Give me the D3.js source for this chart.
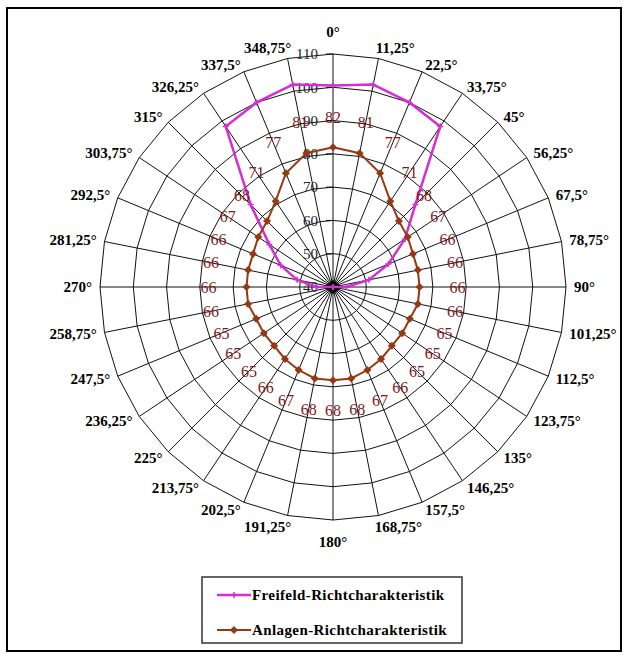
<!DOCTYPE html>
<html>
<head>
<meta charset="UTF-8" />
<title>Richtcharakteristik</title>
<script src="https://d3js.org/d3.v7.min.js"></script>
<style>
	body { margin: 0; background: #fff; }
	text { font-family: "Liberation Serif", "Times New Roman", serif; }
</style>
</head>
<body>
<svg id="chart" width="628" height="659"></svg>
<script>
// categories (angle of the spoke)
var angleLabels = ["0°", "11,25°", "22,5°", "33,75°", "45°", "56,25°", "67,5°", "78,75°",
	"90°", "101,25°", "112,5°", "123,75°", "135°", "146,25°", "157,5°", "168,75°",
	"180°", "191,25°", "202,5°", "213,75°", "225°", "236,25°", "247,5°", "258,75°",
	"270°", "281,25°", "292,5°", "303,75°", "315°", "326,25°", "337,5°", "348,75°"]

// series values
var freifeld = [100.5, 102, 100, 98, 75, 66, 58, 51,
	44, 40, 40, 40, 40, 40, 40, 40,
	40, 40, 40, 40, 40, 40, 40, 40,
	45, 51, 57, 63, 75, 98, 100, 102]
var anlagen = [82, 81, 77, 71, 68, 67, 66, 66,
	66, 66, 65, 65, 65, 66, 67, 68,
	68, 68, 67, 66, 65, 65, 65, 66,
	66, 66, 66, 67, 68, 71, 77, 81]

// value axis
var ringValues = [40, 50, 60, 70, 80, 90, 100, 110]
var seriesNames = ["Freifeld-Richtcharakteristik", "Anlagen-Richtcharakteristik"]

var cx = 333, cy = 287, R = 233
var magenta = "#d42ed4", brown = "#963811", labelRed = "#821818"

var svg = d3.select("#chart")

// outer frame
svg.append("rect")
	.attr("x", 7).attr("y", 8).attr("width", 614).attr("height", 643)
	.attr("fill", "none").attr("stroke", "#000").attr("stroke-width", 2)

var rScale = d3.scaleLinear().domain([d3.min(ringValues), d3.max(ringValues)]).range([0, R])
var aScale = d3.scaleLinear().domain([0, angleLabels.length]).range([0, 2 * Math.PI])

function pt(i, r) {
	var a = aScale(i)
	return [cx + r * Math.sin(a), cy - r * Math.cos(a)]
}

var ringLine = d3.line().curve(d3.curveLinearClosed)

var grid = svg.append("g")

// rings (polygons like excel radar)
grid.selectAll("path.ring")
	.data(ringValues.filter(v => v > d3.min(ringValues)))
	.enter()
	.append("path")
	.attr("class", "ring")
	.attr("d", v => ringLine(angleLabels.map((d, i) => pt(i, rScale(v)))))
	.attr("fill", "none")
	.attr("stroke", "#111")
	.attr("stroke-width", 1)

// spokes
grid.selectAll("line.spoke")
	.data(angleLabels)
	.enter()
	.append("line")
	.attr("class", "spoke")
	.attr("x1", cx).attr("y1", cy)
	.attr("x2", (d, i) => pt(i, R)[0])
	.attr("y2", (d, i) => pt(i, R)[1])
	.attr("stroke", "#111")
	.attr("stroke-width", 1)

// dark blob where the spokes meet
grid.append("path")
	.attr("d", "M" + (cx - 9) + "," + cy + "L" + cx + "," + (cy - 7) + "L" + (cx + 9) + "," + cy + "L" + cx + "," + (cy + 7) + "Z")
	.attr("fill", "#000")

// value axis ticks + labels
grid.selectAll("line.tick")
	.data(ringValues)
	.enter()
	.append("line")
	.attr("x1", cx - 7).attr("x2", cx)
	.attr("y1", v => cy - rScale(v)).attr("y2", v => cy - rScale(v))
	.attr("stroke", "#111")

grid.selectAll("text.val")
	.data(ringValues)
	.enter()
	.append("text")
	.attr("x", cx - 15)
	.attr("y", v => cy - rScale(v))
	.attr("dy", "0.35em")
	.attr("text-anchor", "end")
	.style("font-size", "15px")
	.attr("fill", "#222")
	.text(d => d)

// angle labels
var aLab = svg.append("g").selectAll("text")
	.data(angleLabels)
	.enter()
	.append("text")
	.style("font-size", "15px")
	.style("font-weight", "bold")
	.attr("text-anchor", "middle")
	.attr("dy", "0.35em")
	.text(d => d)

aLab.each(function(d, i) {
	var w = this.getComputedTextLength()
	var a = aScale(i), s = Math.sin(a), c = Math.cos(a)
	var v = pt(i, R)
	var sx = Math.max(-1, Math.min(1, s * 4))
	d3.select(this)
		.attr("x", v[0] + s * 8 + sx * w / 2)
		.attr("y", v[1] - c * (8 + 14 * (1 - Math.abs(sx))))
})

// freifeld series
var fPts = freifeld.map((v, i) => pt(i, rScale(v)))
svg.append("path")
	.attr("d", ringLine(fPts))
	.attr("fill", "none")
	.attr("stroke", magenta)
	.attr("stroke-width", 2.5)
	.attr("stroke-linejoin", "round")

svg.append("g").selectAll("path")
	.data(fPts)
	.enter()
	.append("path")
	.attr("d", p => "M" + (p[0] - 3) + "," + p[1] + "h6M" + p[0] + "," + (p[1] - 3) + "v6")
	.attr("stroke", magenta)
	.attr("stroke-width", 1.5)

// anlagen series
var aPts = anlagen.map((v, i) => pt(i, rScale(v)))
svg.append("path")
	.attr("d", ringLine(aPts))
	.attr("fill", "none")
	.attr("stroke", brown)
	.attr("stroke-width", 2)

function diamond(p, h) {
	return "M" + (p[0] - h) + "," + p[1] + "L" + p[0] + "," + (p[1] - h) + "L" + (p[0] + h) + "," + p[1] + "L" + p[0] + "," + (p[1] + h) + "Z"
}

svg.append("g").selectAll("path")
	.data(aPts)
	.enter()
	.append("path")
	.attr("d", p => diamond(p, 4))
	.attr("fill", brown)

// data labels of anlagen
svg.append("g").selectAll("text")
	.data(anlagen)
	.enter()
	.append("text")
	.attr("x", (v, i) => pt(i, rScale(v) + 30 + 8 * Math.abs(Math.sin(aScale(i))))[0])
	.attr("y", (v, i) => pt(i, rScale(v) + 30 + 8 * Math.abs(Math.sin(aScale(i))))[1])
	.attr("dy", "0.35em")
	.attr("text-anchor", "middle")
	.style("font-size", "16px")
	.attr("fill", labelRed)
	.text(d => d)

// legend
var legend = svg.append("g")
legend.append("rect")
	.attr("x", 202).attr("y", 577).attr("width", 260).attr("height", 66)
	.attr("fill", "#fff").attr("stroke", "#333").attr("stroke-width", 1.5)

var legRows = legend.selectAll("g")
	.data(seriesNames)
	.enter()
	.append("g")
	.attr("transform", (d, i) => "translate(217," + (595 + i * 35) + ")")

legRows.append("line")
	.attr("x1", 0).attr("x2", 34).attr("y1", 0).attr("y2", 0)
	.attr("stroke", (d, i) => i == 0 ? magenta : brown)
	.attr("stroke-width", (d, i) => i == 0 ? 2.5 : 2)

legRows.append("path")
	.attr("d", (d, i) => i == 0 ? "M14,0h6M17,-3v6" : diamond([17, 0], 4))
	.attr("stroke", (d, i) => i == 0 ? magenta : "none")
	.attr("stroke-width", 1.5)
	.attr("fill", (d, i) => i == 0 ? "none" : brown)

legRows.append("text")
	.attr("x", 35)
	.attr("dy", "0.35em")
	.style("font-size", "15px")
	.style("font-weight", "bold")
	.style("letter-spacing", "0.4px")
	.text(d => d)
</script>
</body>
</html>
